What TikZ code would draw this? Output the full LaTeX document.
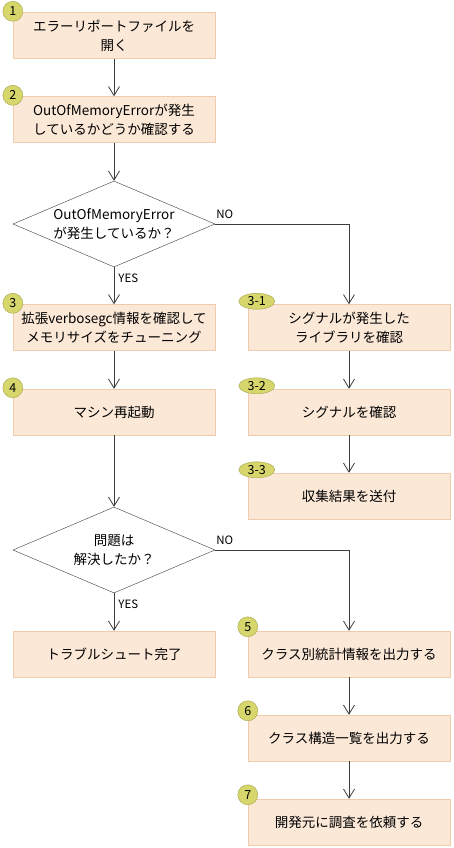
\documentclass[tikz,border=0pt]{standalone}
\usepackage{fontspec}
\setmainfont{Noto Sans CJK JP}
\usepackage{tikz}
\usetikzlibrary{arrows.meta,shapes.geometric}
\usepackage{xcolor}
\definecolor{stepfill}{RGB}{251, 232, 215}
\definecolor{stepline}{RGB}{238, 205, 175}
\definecolor{badgefill}{RGB}{214, 214, 108}
\definecolor{badgeline}{RGB}{165, 165, 75}
\definecolor{flowline}{RGB}{60, 60, 60}

\begin{document}
\begin{tikzpicture}[x=1pt, y=-1pt,
    stepbox/.style={draw=stepline, fill=stepfill, minimum width=202pt, minimum height=46pt,
        align=center, font=\fontsize{13.5}{19}\selectfont, inner sep=0pt},
    decision/.style={draw=flowline, fill=white, diamond, inner sep=0pt, aspect=2.35,
        minimum width=202pt, minimum height=86pt},
    decisiontext/.style={align=center, font=\fontsize{13.5}{19}\selectfont},
    badge/.style={draw=badgeline, fill=badgefill, circle, minimum size=20pt, inner sep=0pt,
        font=\fontsize{12.5}{12.5}\selectfont},
    badgewide/.style={draw=badgeline, fill=badgefill, ellipse, minimum width=36pt,
        minimum height=16pt, inner sep=0pt, font=\fontsize{12.5}{12.5}\selectfont},
    answer/.style={font=\fontsize{11.5}{11.5}\selectfont, inner sep=1pt},
    flow/.style={draw=flowline, line width=0.8pt, -{Straight Barb[length=9pt,width=11pt]}}]
    \useasboundingbox (0,0) rectangle (453,848);
    \def\leftx{114}
    \def\rightx{349}

    % Left column
    \node[stepbox] (open) at (\leftx,35.5) {エラーリポートファイルを\\開く};
    \node[stepbox] (check) at (\leftx,119.5) {OutOfMemoryErrorが発生\\しているかどうか確認する};
    \node[decision] (oom) at (\leftx,224) {};
    \node[decisiontext] (oomtext) at (oom) {OutOfMemoryError\\が発生しているか？};
    \node[stepbox] (tune) at (\leftx,327.5) {拡張verbosegc情報を確認して\\メモリサイズをチューニング};
    \node[stepbox] (reboot) at (\leftx,412) {マシン再起動};
    \node[decision] (solved) at (\leftx,550) {};
    \node[decisiontext] (solvedtext) at (solved) {問題は\\解決したか？};
    \node[stepbox] (done) at (\leftx,654) {トラブルシュート完了};

    % Right column
    \node[stepbox] (library) at (\rightx,327.5) {シグナルが発生した\\ライブラリを確認};
    \node[stepbox] (signal) at (\rightx,412) {シグナルを確認};
    \node[stepbox] (send) at (\rightx,496) {収集結果を送付};
    \node[stepbox] (classstat) at (\rightx,654) {クラス別統計情報を出力する};
    \node[stepbox] (classlist) at (\rightx,738) {クラス構造一覧を出力する};
    \node[stepbox] (vendor) at (\rightx,822) {開発元に調査を依頼する};

    % Badges
    \node[badge] (n1) at ([yshift=1pt]open.north west) {1};
    \node[badge] (n2) at ([yshift=1pt]check.north west) {2};
    \node[badge] (n3) at ([yshift=1pt]tune.north west) {3};
    \node[badge] (n4) at ([yshift=1pt]reboot.north west) {4};
    \node[badgewide] (n31) at ([xshift=9pt,yshift=3pt]library.north west) {3-1};
    \node[badgewide] (n32) at ([xshift=9pt,yshift=3pt]signal.north west) {3-2};
    \node[badgewide] (n33) at ([xshift=9pt,yshift=3pt]send.north west) {3-3};
    \node[badge] (n5) at ([yshift=4pt]classstat.north west) {5};
    \node[badge] (n6) at ([yshift=4pt]classlist.north west) {6};
    \node[badge] (n7) at ([yshift=4pt]vendor.north west) {7};

    % Connectors
    \draw[flow] (open) -- (check);
    \draw[flow] (check) -- (oom.north);
    \draw[flow] (oom.south) -- (tune) node[answer, pos=0.3, right=3pt] {YES};
    \draw[flow] (oom.east) -| (library.north);
    \node[answer, anchor=south west] (oomno) at ([yshift=4pt]oom.east) {NO};
    \draw[flow] (tune) -- (reboot);
    \draw[flow] (library) -- (signal);
    \draw[flow] (signal) -- (send);
    \draw[flow] (reboot) -- (solved.north);
    \draw[flow] (solved.south) -- (done) node[answer, pos=0.3, right=3pt] {YES};
    \draw[flow] (solved.east) -| (classstat.north);
    \node[answer, anchor=south west] (solvedno) at ([yshift=4pt]solved.east) {NO};
    \draw[flow] (classstat) -- (classlist);
    \draw[flow] (classlist) -- (vendor);
\end{tikzpicture}
\end{document}
